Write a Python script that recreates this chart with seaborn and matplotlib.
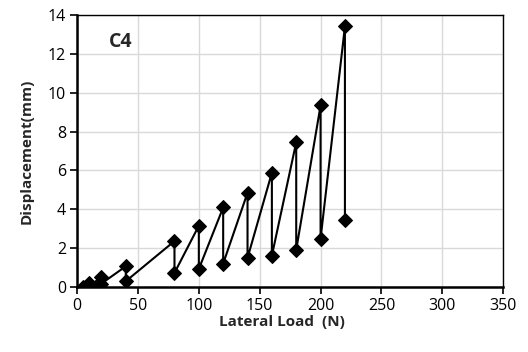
import numpy as np
import matplotlib
matplotlib.use('Agg')
import matplotlib.pyplot as plt
import pandas as pd
import seaborn as sns

# load (N) and displacement (mm), in test order
load = [5, 10, 10, 20, 20, 40, 40, 80, 80, 100, 100, 120, 120,
        140, 140, 160, 160, 180, 180, 200, 200, 220, 220]
disp = [0.0, 0.2, 0.05, 0.5, 0.17, 1.06, 0.29, 2.36, 0.72, 3.15, 0.92, 4.09, 1.2,
        4.85, 1.49, 5.88, 1.61, 7.45, 1.91, 9.35, 2.48, 13.42, 3.45]
x_ticks = [0, 50, 100, 150, 200, 250, 300, 350]
y_ticks = [0, 2, 4, 6, 8, 10, 12, 14]

sns.set_style('white')
plt.rcParams['font.family'] = ['Open Sans', 'DejaVu Sans']

data = pd.DataFrame({'load': load, 'disp': disp})

fig = plt.figure(figsize=(5.28, 3.52), dpi=100)
ax = fig.add_axes([0.146, 0.185, 0.807, 0.772])

sns.lineplot(x='load', y='disp', data=data, sort=False, estimator=None,
             color='black', linewidth=1.5, marker='D', markersize=7,
             markeredgecolor='black', ax=ax)

ax.set_xlim(0, 350)
ax.set_ylim(0, 14)
ax.set_xticks(x_ticks)
ax.set_yticks(y_ticks)
ax.grid(True, color='#d9d9d9', linewidth=1)
ax.set_axisbelow(True)
for s in ['left', 'bottom']:
    ax.spines[s].set_linewidth(1.8)
    ax.spines[s].set_color('black')
for s in ['top', 'right']:
    ax.spines[s].set_linewidth(1.0)
    ax.spines[s].set_color('black')
ax.tick_params(axis='both', direction='out', length=5, width=1.2, labelsize=11.5,
               bottom=True, left=True, colors='black', pad=3)

ax.set_xlabel('Lateral Load  (N)', fontsize=11, fontweight='bold', labelpad=-1)
ax.xaxis.set_label_coords(0.48, -0.105)
ax.set_ylabel('Displacement(mm)', fontsize=11, fontweight='bold', labelpad=10)
ax.text(26, 12.6, 'C4', fontsize=14, fontweight='bold', va='center')

fig.savefig('out.png', dpi=100)
